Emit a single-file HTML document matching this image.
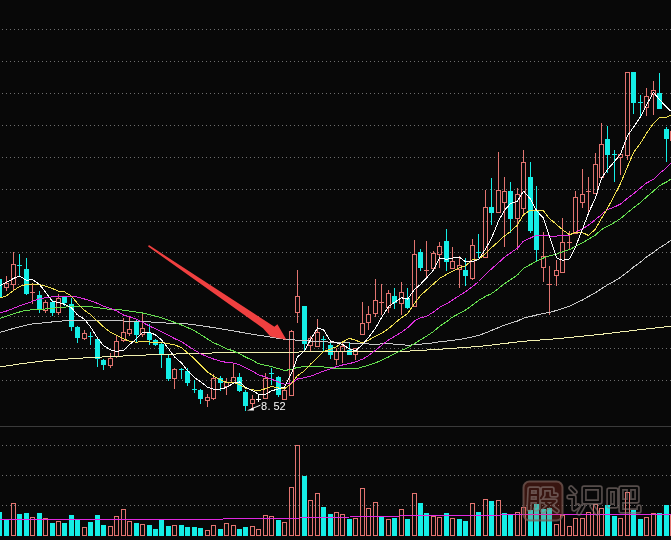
<!DOCTYPE html><html><head><meta charset="utf-8"><style>html,body{margin:0;padding:0;background:#080808;width:671px;height:540px;overflow:hidden}</style></head><body><svg width="671" height="540" viewBox="0 0 671 540" style="display:block"><rect width="671" height="540" fill="#080808"/><defs><pattern id="dot" x="0" y="0" width="4" height="1" patternUnits="userSpaceOnUse"><rect x="2" y="0" width="1" height="1" fill="#6e6e6e"/></pattern></defs><rect x="0" y="29" width="671" height="1" fill="url(#dot)"/><rect x="0" y="61" width="671" height="1" fill="url(#dot)"/><rect x="0" y="93" width="671" height="1" fill="url(#dot)"/><rect x="0" y="125" width="671" height="1" fill="url(#dot)"/><rect x="0" y="157" width="671" height="1" fill="url(#dot)"/><rect x="0" y="189" width="671" height="1" fill="url(#dot)"/><rect x="0" y="221" width="671" height="1" fill="url(#dot)"/><rect x="0" y="252" width="671" height="1" fill="url(#dot)"/><rect x="0" y="284" width="671" height="1" fill="url(#dot)"/><rect x="0" y="316" width="671" height="1" fill="url(#dot)"/><rect x="0" y="348" width="671" height="1" fill="url(#dot)"/><rect x="0" y="380" width="671" height="1" fill="url(#dot)"/><rect x="0" y="445" width="671" height="1" fill="url(#dot)"/><rect x="0" y="475" width="671" height="1" fill="url(#dot)"/><rect x="0" y="505" width="671" height="1" fill="url(#dot)"/><rect x="0" y="426" width="671" height="1" fill="#3a3a3a"/><g shape-rendering="crispEdges"><rect x="-1" y="278" width="1" height="20" fill="#14eee6"/><rect x="-3" y="279" width="5" height="19" fill="#14eee6"/><rect x="4.5" y="283.5" width="4" height="4" fill="none" stroke="#e27470" stroke-width="1"/><rect x="6" y="276" width="1" height="7" fill="#e27470"/><rect x="6" y="288" width="1" height="3" fill="#e27470"/><rect x="11.5" y="264.5" width="4" height="20" fill="none" stroke="#e27470" stroke-width="1"/><rect x="13" y="252" width="1" height="12" fill="#e27470"/><rect x="13" y="285" width="1" height="6" fill="#e27470"/><rect x="19" y="254" width="1" height="22" fill="#14eee6"/><rect x="17" y="265" width="5" height="1" fill="#14eee6"/><rect x="26" y="258" width="1" height="37" fill="#14eee6"/><rect x="24" y="269" width="5" height="25" fill="#14eee6"/><rect x="32" y="283" width="1" height="21" fill="#e27470"/><rect x="30" y="292" width="5" height="1" fill="#e27470"/><rect x="39" y="291" width="1" height="22" fill="#14eee6"/><rect x="37" y="295" width="5" height="14" fill="#14eee6"/><rect x="43.5" y="302.5" width="4" height="8" fill="none" stroke="#e27470" stroke-width="1"/><rect x="45" y="300" width="1" height="2" fill="#e27470"/><rect x="45" y="311" width="1" height="2" fill="#e27470"/><rect x="52" y="300" width="1" height="16" fill="#14eee6"/><rect x="50" y="302" width="5" height="11" fill="#14eee6"/><rect x="56.5" y="298.5" width="4" height="14" fill="none" stroke="#e27470" stroke-width="1"/><rect x="58" y="294" width="1" height="4" fill="#e27470"/><rect x="58" y="313" width="1" height="2" fill="#e27470"/><rect x="64" y="296" width="1" height="10" fill="#14eee6"/><rect x="62" y="297" width="5" height="6" fill="#14eee6"/><rect x="71" y="298" width="1" height="33" fill="#14eee6"/><rect x="69" y="304" width="5" height="23" fill="#14eee6"/><rect x="77" y="326" width="1" height="17" fill="#14eee6"/><rect x="75" y="327" width="5" height="11" fill="#14eee6"/><rect x="82.5" y="333.5" width="4" height="5" fill="none" stroke="#e27470" stroke-width="1"/><rect x="84" y="330" width="1" height="3" fill="#e27470"/><rect x="84" y="339" width="1" height="1" fill="#e27470"/><rect x="90" y="332" width="1" height="13" fill="#14eee6"/><rect x="88" y="336" width="5" height="1" fill="#14eee6"/><rect x="97" y="337" width="1" height="30" fill="#14eee6"/><rect x="95" y="339" width="5" height="20" fill="#14eee6"/><rect x="103" y="359" width="1" height="11" fill="#14eee6"/><rect x="101" y="360" width="5" height="5" fill="#14eee6"/><rect x="108.5" y="358.5" width="4" height="7" fill="none" stroke="#e27470" stroke-width="1"/><rect x="110" y="353" width="1" height="5" fill="#e27470"/><rect x="110" y="366" width="1" height="2" fill="#e27470"/><rect x="114.5" y="341.5" width="4" height="15" fill="none" stroke="#e27470" stroke-width="1"/><rect x="116" y="336" width="1" height="5" fill="#e27470"/><rect x="116" y="357" width="1" height="1" fill="#e27470"/><rect x="121.5" y="332.5" width="4" height="8" fill="none" stroke="#e27470" stroke-width="1"/><rect x="123" y="318" width="1" height="14" fill="#e27470"/><rect x="123" y="341" width="1" height="1" fill="#e27470"/><rect x="127.5" y="329.5" width="4" height="4" fill="none" stroke="#e27470" stroke-width="1"/><rect x="129" y="317" width="1" height="12" fill="#e27470"/><rect x="129" y="334" width="1" height="2" fill="#e27470"/><rect x="136" y="320" width="1" height="23" fill="#14eee6"/><rect x="134" y="322" width="5" height="13" fill="#14eee6"/><rect x="140.5" y="328.5" width="4" height="6" fill="none" stroke="#e27470" stroke-width="1"/><rect x="142" y="314" width="1" height="14" fill="#e27470"/><rect x="142" y="335" width="1" height="2" fill="#e27470"/><rect x="149" y="324" width="1" height="21" fill="#14eee6"/><rect x="147" y="333" width="5" height="7" fill="#14eee6"/><rect x="155" y="339" width="1" height="7" fill="#14eee6"/><rect x="153" y="340" width="5" height="5" fill="#14eee6"/><rect x="161" y="343" width="1" height="25" fill="#14eee6"/><rect x="159" y="344" width="5" height="11" fill="#14eee6"/><rect x="168" y="355" width="1" height="26" fill="#14eee6"/><rect x="166" y="358" width="5" height="21" fill="#14eee6"/><rect x="172.5" y="369.5" width="4" height="9" fill="none" stroke="#e27470" stroke-width="1"/><rect x="174" y="368" width="1" height="1" fill="#e27470"/><rect x="174" y="379" width="1" height="10" fill="#e27470"/><rect x="181" y="368" width="1" height="11" fill="#14eee6"/><rect x="179" y="369" width="5" height="1" fill="#14eee6"/><rect x="187" y="368" width="1" height="18" fill="#14eee6"/><rect x="185" y="371" width="5" height="12" fill="#14eee6"/><rect x="194" y="380" width="1" height="13" fill="#14eee6"/><rect x="192" y="389" width="5" height="1" fill="#14eee6"/><rect x="200" y="389" width="1" height="15" fill="#14eee6"/><rect x="198" y="390" width="5" height="9" fill="#14eee6"/><rect x="205.5" y="397.5" width="4" height="3" fill="none" stroke="#e27470" stroke-width="1"/><rect x="207" y="394" width="1" height="3" fill="#e27470"/><rect x="207" y="401" width="1" height="6" fill="#e27470"/><rect x="211.5" y="378.5" width="4" height="20" fill="none" stroke="#e27470" stroke-width="1"/><rect x="213" y="374" width="1" height="4" fill="#e27470"/><rect x="213" y="399" width="1" height="1" fill="#e27470"/><rect x="220" y="376" width="1" height="15" fill="#14eee6"/><rect x="218" y="378" width="5" height="5" fill="#14eee6"/><rect x="224.5" y="382.5" width="4" height="4" fill="none" stroke="#e27470" stroke-width="1"/><rect x="226" y="378" width="1" height="4" fill="#e27470"/><rect x="226" y="387" width="1" height="8" fill="#e27470"/><rect x="231.5" y="377.5" width="4" height="5" fill="none" stroke="#e27470" stroke-width="1"/><rect x="233" y="364" width="1" height="13" fill="#e27470"/><rect x="233" y="383" width="1" height="1" fill="#e27470"/><rect x="239" y="373" width="1" height="19" fill="#14eee6"/><rect x="237" y="377" width="5" height="14" fill="#14eee6"/><rect x="245" y="390" width="1" height="21" fill="#14eee6"/><rect x="243" y="392" width="5" height="14" fill="#14eee6"/><rect x="250.5" y="399.5" width="4" height="4" fill="none" stroke="#e27470" stroke-width="1"/><rect x="252" y="395" width="1" height="4" fill="#e27470"/><rect x="252" y="404" width="1" height="5" fill="#e27470"/><rect x="258" y="394" width="1" height="8" fill="#ffffff"/><rect x="256" y="399" width="5" height="1" fill="#ffffff"/><rect x="263.5" y="378.5" width="4" height="20" fill="none" stroke="#e27470" stroke-width="1"/><rect x="265" y="373" width="1" height="5" fill="#e27470"/><rect x="271" y="368" width="1" height="17" fill="#14eee6"/><rect x="269" y="373" width="5" height="1" fill="#14eee6"/><rect x="278" y="376" width="1" height="21" fill="#14eee6"/><rect x="276" y="377" width="5" height="18" fill="#14eee6"/><rect x="282.5" y="390.5" width="4" height="9" fill="none" stroke="#e27470" stroke-width="1"/><rect x="284" y="389" width="1" height="1" fill="#e27470"/><rect x="289.5" y="331.5" width="4" height="64" fill="none" stroke="#e27470" stroke-width="1"/><rect x="291" y="330" width="1" height="1" fill="#e27470"/><rect x="295.5" y="296.5" width="4" height="16" fill="none" stroke="#e27470" stroke-width="1"/><rect x="297" y="270" width="1" height="26" fill="#e27470"/><rect x="297" y="313" width="1" height="10" fill="#e27470"/><rect x="304" y="306" width="1" height="45" fill="#14eee6"/><rect x="302" y="306" width="5" height="38" fill="#14eee6"/><rect x="308.5" y="338.5" width="4" height="7" fill="none" stroke="#e27470" stroke-width="1"/><rect x="310" y="336" width="1" height="2" fill="#e27470"/><rect x="310" y="346" width="1" height="6" fill="#e27470"/><rect x="315.5" y="332.5" width="4" height="14" fill="none" stroke="#e27470" stroke-width="1"/><rect x="317" y="319" width="1" height="13" fill="#e27470"/><rect x="323" y="336" width="1" height="16" fill="#14eee6"/><rect x="321" y="339" width="5" height="1" fill="#14eee6"/><rect x="330" y="340" width="1" height="19" fill="#14eee6"/><rect x="328" y="345" width="5" height="10" fill="#14eee6"/><rect x="334.5" y="351.5" width="4" height="8" fill="none" stroke="#e27470" stroke-width="1"/><rect x="336" y="348" width="1" height="3" fill="#e27470"/><rect x="336" y="360" width="1" height="5" fill="#e27470"/><rect x="340.5" y="346.5" width="4" height="5" fill="none" stroke="#e27470" stroke-width="1"/><rect x="342" y="343" width="1" height="3" fill="#e27470"/><rect x="342" y="352" width="1" height="11" fill="#e27470"/><rect x="349" y="342" width="1" height="13" fill="#14eee6"/><rect x="347" y="350" width="5" height="5" fill="#14eee6"/><rect x="353.5" y="348.5" width="4" height="6" fill="none" stroke="#e27470" stroke-width="1"/><rect x="355" y="355" width="1" height="5" fill="#e27470"/><rect x="360.5" y="323.5" width="4" height="11" fill="none" stroke="#e27470" stroke-width="1"/><rect x="362" y="302" width="1" height="21" fill="#e27470"/><rect x="366.5" y="314.5" width="4" height="8" fill="none" stroke="#e27470" stroke-width="1"/><rect x="368" y="306" width="1" height="8" fill="#e27470"/><rect x="368" y="323" width="1" height="7" fill="#e27470"/><rect x="373.5" y="300.5" width="4" height="13" fill="none" stroke="#e27470" stroke-width="1"/><rect x="375" y="279" width="1" height="21" fill="#e27470"/><rect x="375" y="314" width="1" height="3" fill="#e27470"/><rect x="381" y="284" width="1" height="31" fill="#e27470"/><rect x="379" y="302" width="5" height="1" fill="#e27470"/><rect x="386.5" y="293.5" width="4" height="14" fill="none" stroke="#e27470" stroke-width="1"/><rect x="388" y="290" width="1" height="3" fill="#e27470"/><rect x="388" y="308" width="1" height="5" fill="#e27470"/><rect x="394" y="288" width="1" height="21" fill="#14eee6"/><rect x="392" y="296" width="5" height="7" fill="#14eee6"/><rect x="399.5" y="292.5" width="4" height="11" fill="none" stroke="#e27470" stroke-width="1"/><rect x="401" y="282" width="1" height="10" fill="#e27470"/><rect x="401" y="304" width="1" height="11" fill="#e27470"/><rect x="407" y="288" width="1" height="21" fill="#14eee6"/><rect x="405" y="298" width="5" height="10" fill="#14eee6"/><rect x="412.5" y="254.5" width="4" height="52" fill="none" stroke="#e27470" stroke-width="1"/><rect x="414" y="240" width="1" height="14" fill="#e27470"/><rect x="420" y="249" width="1" height="22" fill="#14eee6"/><rect x="418" y="252" width="5" height="16" fill="#14eee6"/><rect x="426" y="241" width="1" height="37" fill="#e27470"/><rect x="424" y="270" width="5" height="1" fill="#e27470"/><rect x="431.5" y="253.5" width="4" height="15" fill="none" stroke="#e27470" stroke-width="1"/><rect x="433" y="251" width="1" height="2" fill="#e27470"/><rect x="437.5" y="246.5" width="4" height="8" fill="none" stroke="#e27470" stroke-width="1"/><rect x="439" y="242" width="1" height="4" fill="#e27470"/><rect x="439" y="255" width="1" height="13" fill="#e27470"/><rect x="446" y="229" width="1" height="42" fill="#14eee6"/><rect x="444" y="241" width="5" height="21" fill="#14eee6"/><rect x="450.5" y="261.5" width="4" height="7" fill="none" stroke="#e27470" stroke-width="1"/><rect x="452" y="247" width="1" height="14" fill="#e27470"/><rect x="457.5" y="265.5" width="4" height="4" fill="none" stroke="#e27470" stroke-width="1"/><rect x="459" y="256" width="1" height="9" fill="#e27470"/><rect x="459" y="270" width="1" height="18" fill="#e27470"/><rect x="465" y="258" width="1" height="28" fill="#14eee6"/><rect x="463" y="270" width="5" height="6" fill="#14eee6"/><rect x="470.5" y="245.5" width="4" height="33" fill="none" stroke="#e27470" stroke-width="1"/><rect x="472" y="239" width="1" height="6" fill="#e27470"/><rect x="472" y="279" width="1" height="1" fill="#e27470"/><rect x="478" y="234" width="1" height="24" fill="#14eee6"/><rect x="476" y="252" width="5" height="1" fill="#14eee6"/><rect x="483.5" y="207.5" width="4" height="50" fill="none" stroke="#e27470" stroke-width="1"/><rect x="485" y="190" width="1" height="17" fill="#e27470"/><rect x="491" y="178" width="1" height="47" fill="#14eee6"/><rect x="489" y="207" width="5" height="6" fill="#14eee6"/><rect x="496.5" y="190.5" width="4" height="22" fill="none" stroke="#e27470" stroke-width="1"/><rect x="498" y="152" width="1" height="38" fill="#e27470"/><rect x="502.5" y="191.5" width="4" height="11" fill="none" stroke="#e27470" stroke-width="1"/><rect x="504" y="177" width="1" height="14" fill="#e27470"/><rect x="504" y="203" width="1" height="44" fill="#e27470"/><rect x="510" y="182" width="1" height="51" fill="#14eee6"/><rect x="508" y="191" width="5" height="28" fill="#14eee6"/><rect x="515.5" y="194.5" width="4" height="24" fill="none" stroke="#e27470" stroke-width="1"/><rect x="517" y="188" width="1" height="6" fill="#e27470"/><rect x="517" y="219" width="1" height="31" fill="#e27470"/><rect x="521.5" y="162.5" width="4" height="46" fill="none" stroke="#e27470" stroke-width="1"/><rect x="523" y="150" width="1" height="12" fill="#e27470"/><rect x="523" y="209" width="1" height="6" fill="#e27470"/><rect x="530" y="162" width="1" height="71" fill="#14eee6"/><rect x="528" y="177" width="5" height="54" fill="#14eee6"/><rect x="536" y="186" width="1" height="75" fill="#14eee6"/><rect x="534" y="210" width="5" height="40" fill="#14eee6"/><rect x="541.5" y="256.5" width="4" height="11" fill="none" stroke="#e27470" stroke-width="1"/><rect x="543" y="232" width="1" height="24" fill="#e27470"/><rect x="543" y="268" width="1" height="14" fill="#e27470"/><rect x="549" y="266" width="1" height="49" fill="#e27470"/><rect x="547" y="284" width="5" height="1" fill="#e27470"/><rect x="554.5" y="270.5" width="4" height="5" fill="none" stroke="#e27470" stroke-width="1"/><rect x="556" y="260" width="1" height="10" fill="#e27470"/><rect x="556" y="276" width="1" height="10" fill="#e27470"/><rect x="560.5" y="242.5" width="4" height="30" fill="none" stroke="#e27470" stroke-width="1"/><rect x="562" y="218" width="1" height="24" fill="#e27470"/><rect x="569" y="231" width="1" height="19" fill="#e27470"/><rect x="567" y="242" width="5" height="1" fill="#e27470"/><rect x="573.5" y="197.5" width="4" height="36" fill="none" stroke="#e27470" stroke-width="1"/><rect x="575" y="191" width="1" height="6" fill="#e27470"/><rect x="580.5" y="194.5" width="4" height="8" fill="none" stroke="#e27470" stroke-width="1"/><rect x="582" y="169" width="1" height="25" fill="#e27470"/><rect x="582" y="203" width="1" height="5" fill="#e27470"/><rect x="588" y="177" width="1" height="35" fill="#e27470"/><rect x="586" y="191" width="5" height="1" fill="#e27470"/><rect x="593.5" y="164.5" width="4" height="29" fill="none" stroke="#e27470" stroke-width="1"/><rect x="595" y="153" width="1" height="11" fill="#e27470"/><rect x="599.5" y="144.5" width="4" height="33" fill="none" stroke="#e27470" stroke-width="1"/><rect x="601" y="123" width="1" height="21" fill="#e27470"/><rect x="607" y="126" width="1" height="47" fill="#14eee6"/><rect x="605" y="139" width="5" height="16" fill="#14eee6"/><rect x="614" y="150" width="1" height="32" fill="#14eee6"/><rect x="612" y="154" width="5" height="1" fill="#14eee6"/><rect x="618.5" y="154.5" width="4" height="3" fill="none" stroke="#e27470" stroke-width="1"/><rect x="620" y="153" width="1" height="1" fill="#e27470"/><rect x="620" y="158" width="1" height="17" fill="#e27470"/><rect x="625.5" y="72.5" width="4" height="83" fill="none" stroke="#e27470" stroke-width="1"/><rect x="627" y="156" width="1" height="4" fill="#e27470"/><rect x="633" y="72" width="1" height="42" fill="#14eee6"/><rect x="631" y="72" width="5" height="31" fill="#14eee6"/><rect x="640" y="95" width="1" height="23" fill="#14eee6"/><rect x="638" y="102" width="5" height="1" fill="#14eee6"/><rect x="644.5" y="96.5" width="4" height="11" fill="none" stroke="#e27470" stroke-width="1"/><rect x="646" y="88" width="1" height="8" fill="#e27470"/><rect x="646" y="108" width="1" height="8" fill="#e27470"/><rect x="651.5" y="90.5" width="4" height="4" fill="none" stroke="#e27470" stroke-width="1"/><rect x="653" y="81" width="1" height="9" fill="#e27470"/><rect x="653" y="95" width="1" height="20" fill="#e27470"/><rect x="659" y="73" width="1" height="36" fill="#14eee6"/><rect x="657" y="93" width="5" height="16" fill="#14eee6"/><rect x="666" y="127" width="1" height="35" fill="#14eee6"/><rect x="664" y="129" width="5" height="10" fill="#14eee6"/><rect x="670.5" y="131.5" width="4" height="9" fill="none" stroke="#e27470" stroke-width="1"/><rect x="672" y="125" width="1" height="6" fill="#e27470"/><rect x="672" y="141" width="1" height="10" fill="#e27470"/></g><g shape-rendering="crispEdges"><rect x="-3" y="512" width="5" height="24" fill="#14eee6"/><rect x="4" y="520" width="5" height="16" fill="#14eee6"/><rect x="11.5" y="503.5" width="4" height="32" fill="none" stroke="#e27470" stroke-width="1"/><rect x="17" y="514" width="5" height="22" fill="#14eee6"/><rect x="24" y="513" width="5" height="23" fill="#14eee6"/><rect x="30.5" y="517.5" width="4" height="18" fill="none" stroke="#e27470" stroke-width="1"/><rect x="37" y="513" width="5" height="23" fill="#14eee6"/><rect x="43.5" y="518.5" width="4" height="17" fill="none" stroke="#e27470" stroke-width="1"/><rect x="50" y="523" width="5" height="13" fill="#14eee6"/><rect x="56.5" y="521.5" width="4" height="14" fill="none" stroke="#e27470" stroke-width="1"/><rect x="62" y="523" width="5" height="13" fill="#14eee6"/><rect x="69" y="515" width="5" height="21" fill="#14eee6"/><rect x="75" y="520" width="5" height="16" fill="#14eee6"/><rect x="82.5" y="527.5" width="4" height="8" fill="none" stroke="#e27470" stroke-width="1"/><rect x="88" y="522" width="5" height="14" fill="#14eee6"/><rect x="95" y="515" width="5" height="21" fill="#14eee6"/><rect x="101" y="525" width="5" height="11" fill="#14eee6"/><rect x="108.5" y="526.5" width="4" height="9" fill="none" stroke="#e27470" stroke-width="1"/><rect x="114.5" y="516.5" width="4" height="19" fill="none" stroke="#e27470" stroke-width="1"/><rect x="121.5" y="509.5" width="4" height="26" fill="none" stroke="#e27470" stroke-width="1"/><rect x="127.5" y="521.5" width="4" height="14" fill="none" stroke="#e27470" stroke-width="1"/><rect x="134" y="523" width="5" height="13" fill="#14eee6"/><rect x="140.5" y="524.5" width="4" height="11" fill="none" stroke="#e27470" stroke-width="1"/><rect x="147" y="525" width="5" height="11" fill="#14eee6"/><rect x="153" y="529" width="5" height="7" fill="#14eee6"/><rect x="159" y="520" width="5" height="16" fill="#14eee6"/><rect x="166" y="526" width="5" height="10" fill="#14eee6"/><rect x="172.5" y="525.5" width="4" height="10" fill="none" stroke="#e27470" stroke-width="1"/><rect x="179" y="525" width="5" height="11" fill="#14eee6"/><rect x="185" y="527" width="5" height="9" fill="#14eee6"/><rect x="192" y="527" width="5" height="9" fill="#14eee6"/><rect x="198" y="528" width="5" height="8" fill="#14eee6"/><rect x="205.5" y="530.5" width="4" height="5" fill="none" stroke="#e27470" stroke-width="1"/><rect x="211.5" y="525.5" width="4" height="10" fill="none" stroke="#e27470" stroke-width="1"/><rect x="218" y="529" width="5" height="7" fill="#14eee6"/><rect x="224.5" y="523.5" width="4" height="12" fill="none" stroke="#e27470" stroke-width="1"/><rect x="231.5" y="525.5" width="4" height="10" fill="none" stroke="#e27470" stroke-width="1"/><rect x="237" y="529" width="5" height="7" fill="#14eee6"/><rect x="243" y="527" width="5" height="9" fill="#14eee6"/><rect x="250.5" y="526.5" width="4" height="9" fill="none" stroke="#e27470" stroke-width="1"/><rect x="256.5" y="529.5" width="4" height="6" fill="none" stroke="#e27470" stroke-width="1"/><rect x="263.5" y="515.5" width="4" height="20" fill="none" stroke="#e27470" stroke-width="1"/><rect x="269.5" y="516.5" width="4" height="19" fill="none" stroke="#e27470" stroke-width="1"/><rect x="276" y="520" width="5" height="16" fill="#14eee6"/><rect x="282.5" y="522.5" width="4" height="13" fill="none" stroke="#e27470" stroke-width="1"/><rect x="289.5" y="487.5" width="4" height="48" fill="none" stroke="#e27470" stroke-width="1"/><rect x="295.5" y="445.5" width="4" height="90" fill="none" stroke="#e27470" stroke-width="1"/><rect x="302" y="476" width="5" height="60" fill="#14eee6"/><rect x="308.5" y="500.5" width="4" height="35" fill="none" stroke="#e27470" stroke-width="1"/><rect x="315.5" y="493.5" width="4" height="42" fill="none" stroke="#e27470" stroke-width="1"/><rect x="321" y="507" width="5" height="29" fill="#14eee6"/><rect x="328" y="514" width="5" height="22" fill="#14eee6"/><rect x="334.5" y="512.5" width="4" height="23" fill="none" stroke="#e27470" stroke-width="1"/><rect x="340.5" y="514.5" width="4" height="21" fill="none" stroke="#e27470" stroke-width="1"/><rect x="347" y="519" width="5" height="17" fill="#14eee6"/><rect x="353.5" y="518.5" width="4" height="17" fill="none" stroke="#e27470" stroke-width="1"/><rect x="360.5" y="488.5" width="4" height="47" fill="none" stroke="#e27470" stroke-width="1"/><rect x="366.5" y="508.5" width="4" height="27" fill="none" stroke="#e27470" stroke-width="1"/><rect x="373.5" y="502.5" width="4" height="33" fill="none" stroke="#e27470" stroke-width="1"/><rect x="379" y="516" width="5" height="20" fill="#14eee6"/><rect x="386.5" y="519.5" width="4" height="16" fill="none" stroke="#e27470" stroke-width="1"/><rect x="392" y="518" width="5" height="18" fill="#14eee6"/><rect x="399.5" y="509.5" width="4" height="26" fill="none" stroke="#e27470" stroke-width="1"/><rect x="405" y="519" width="5" height="17" fill="#14eee6"/><rect x="412.5" y="493.5" width="4" height="42" fill="none" stroke="#e27470" stroke-width="1"/><rect x="418" y="503" width="5" height="33" fill="#14eee6"/><rect x="424" y="513" width="5" height="23" fill="#14eee6"/><rect x="431.5" y="516.5" width="4" height="19" fill="none" stroke="#e27470" stroke-width="1"/><rect x="437.5" y="517.5" width="4" height="18" fill="none" stroke="#e27470" stroke-width="1"/><rect x="444" y="513" width="5" height="23" fill="#14eee6"/><rect x="450.5" y="518.5" width="4" height="17" fill="none" stroke="#e27470" stroke-width="1"/><rect x="457" y="519" width="5" height="17" fill="#14eee6"/><rect x="463" y="521" width="5" height="15" fill="#14eee6"/><rect x="470.5" y="503.5" width="4" height="32" fill="none" stroke="#e27470" stroke-width="1"/><rect x="476" y="512" width="5" height="24" fill="#14eee6"/><rect x="483.5" y="499.5" width="4" height="36" fill="none" stroke="#e27470" stroke-width="1"/><rect x="489" y="501" width="5" height="35" fill="#14eee6"/><rect x="496.5" y="500.5" width="4" height="35" fill="none" stroke="#e27470" stroke-width="1"/><rect x="502" y="513" width="5" height="23" fill="#14eee6"/><rect x="508" y="515" width="5" height="21" fill="#14eee6"/><rect x="515.5" y="512.5" width="4" height="23" fill="none" stroke="#e27470" stroke-width="1"/><rect x="521.5" y="507.5" width="4" height="28" fill="none" stroke="#e27470" stroke-width="1"/><rect x="528" y="510" width="5" height="26" fill="#14eee6"/><rect x="534" y="504" width="5" height="32" fill="#14eee6"/><rect x="541" y="509" width="5" height="27" fill="#14eee6"/><rect x="547" y="508" width="5" height="28" fill="#14eee6"/><rect x="554.5" y="524.5" width="4" height="11" fill="none" stroke="#e27470" stroke-width="1"/><rect x="560.5" y="515.5" width="4" height="20" fill="none" stroke="#e27470" stroke-width="1"/><rect x="567.5" y="526.5" width="4" height="9" fill="none" stroke="#e27470" stroke-width="1"/><rect x="573.5" y="518.5" width="4" height="17" fill="none" stroke="#e27470" stroke-width="1"/><rect x="580.5" y="518.5" width="4" height="17" fill="none" stroke="#e27470" stroke-width="1"/><rect x="586.5" y="512.5" width="4" height="23" fill="none" stroke="#e27470" stroke-width="1"/><rect x="593.5" y="504.5" width="4" height="31" fill="none" stroke="#e27470" stroke-width="1"/><rect x="599.5" y="508.5" width="4" height="27" fill="none" stroke="#e27470" stroke-width="1"/><rect x="605" y="505" width="5" height="31" fill="#14eee6"/><rect x="612" y="516" width="5" height="20" fill="#14eee6"/><rect x="618.5" y="518.5" width="4" height="17" fill="none" stroke="#e27470" stroke-width="1"/><rect x="625.5" y="492.5" width="4" height="43" fill="none" stroke="#e27470" stroke-width="1"/><rect x="631" y="510" width="5" height="26" fill="#14eee6"/><rect x="638" y="519" width="5" height="17" fill="#14eee6"/><rect x="644.5" y="517.5" width="4" height="18" fill="none" stroke="#e27470" stroke-width="1"/><rect x="651.5" y="513.5" width="4" height="22" fill="none" stroke="#e27470" stroke-width="1"/><rect x="657" y="513" width="5" height="23" fill="#14eee6"/><rect x="664" y="505" width="5" height="31" fill="#14eee6"/><rect x="670.5" y="514.5" width="4" height="21" fill="none" stroke="#e27470" stroke-width="1"/></g><polyline points="0,519.8 200,519.3 300,518 400,516 500,515 671,514" fill="none" stroke="#e028e0" stroke-width="1" shape-rendering="crispEdges"/><defs><mask id="gm" maskUnits="userSpaceOnUse" x="500" y="470" width="171" height="70"><path d="M530 489 L529 509 M530 489 H538 V508 L536 509 M530 495 H538 M530 501 H538 M543 489 V495 L541 498 M543 489 H552 V495 H556 M542 501 H555 L543 511 M546 503 L557 511 M571 488 L575 492 M569 497 H574 V509 L578 506 M584 488 H600 V502 H584 Z M583 506 L579 513 M592 506 L597 513 M609 490 H616 V506 H609 Z M621 488 H637 V501 H621 Z M629 488 V501 M621 501 V511 H639 V507" fill="none" stroke="#fff" stroke-width="5.5" stroke-linejoin="round" stroke-linecap="round"/><path d="M530 489 L529 509 M530 489 H538 V508 L536 509 M530 495 H538 M530 501 H538 M543 489 V495 L541 498 M543 489 H552 V495 H556 M542 501 H555 L543 511 M546 503 L557 511 M571 488 L575 492 M569 497 H574 V509 L578 506 M584 488 H600 V502 H584 Z M583 506 L579 513 M592 506 L597 513 M609 490 H616 V506 H609 Z M621 488 H637 V501 H621 Z M629 488 V501 M621 501 V511 H639 V507" fill="none" stroke="#000" stroke-width="2.2" stroke-linejoin="round" stroke-linecap="round"/></mask></defs><rect x="523.5" y="481.5" width="39" height="39" rx="6" fill="#c83c28" fill-opacity="0.25" stroke="#7a6058" stroke-opacity="0.7" stroke-width="2"/><rect x="500" y="470" width="171" height="70" fill="#8a7c78" fill-opacity="0.6" mask="url(#gm)"/><polyline points="0.0,366.9 20.9,363.8 41.7,361.1 62.6,359.4 83.5,358.0 104.3,356.9 125.2,355.9 140.0,355.2 181.7,353.8 223.5,352.7 280.0,352.1 340.0,351.8 400.0,351.6 440.4,349.2 480.8,346.3 521.2,341.5 561.5,338.3 601.9,334.2 642.3,329.4 671.0,326.2" fill="none" stroke="#f2f0b0" stroke-width="1.0" stroke-linejoin="round" shape-rendering="crispEdges"/><polyline points="-0.5,332.4 6.5,330.5 13.5,328.4 19.5,326.8 26.5,325.1 32.5,324.0 39.5,323.3 45.5,322.7 52.5,321.9 58.5,321.2 64.5,320.9 71.5,320.7 77.5,320.5 84.5,320.5 90.5,320.5 97.5,320.5 103.5,320.5 110.5,320.7 116.5,320.9 123.5,321.0 129.5,321.2 136.5,321.3 142.5,321.5 149.5,321.9 155.5,322.3 161.5,322.7 168.5,323.2 174.5,323.6 181.5,323.8 187.5,324.0 194.5,324.8 200.5,325.7 207.5,326.7 213.5,327.6 220.5,328.7 226.5,329.7 233.5,330.9 239.5,332.0 245.5,333.1 252.5,334.3 258.5,335.2 265.5,336.3 271.5,337.3 278.5,338.4 284.5,339.2 291.5,339.7 297.5,340.2 304.5,340.6 310.5,341.1 317.5,341.5 323.5,341.8 330.5,342.1 336.5,342.4 342.5,342.7 349.5,343.0 355.5,343.3 362.5,343.7 368.5,344.0 375.5,344.3 381.5,343.9 388.5,343.8 394.5,344.1 401.5,344.6 407.5,345.3 414.5,344.7 420.5,344.2 426.5,343.6 433.5,342.8 439.5,341.7 446.5,341.1 452.5,340.4 459.5,339.4 465.5,338.3 472.5,336.9 478.5,335.5 485.5,332.9 491.5,330.4 498.5,327.6 504.5,325.1 510.5,323.2 517.5,321.0 523.5,318.1 530.5,316.5 536.5,315.0 543.5,313.5 549.5,312.3 556.5,310.5 562.5,308.4 569.5,306.3 575.5,303.2 582.5,300.0 588.5,296.5 595.5,292.6 601.5,288.7 607.5,284.9 614.5,281.1 620.5,277.4 627.5,272.1 633.5,267.1 640.5,262.1 646.5,257.0 653.5,252.3 659.5,247.8 666.5,243.6 672.5,239.2" fill="none" stroke="#c8c8c8" stroke-width="1.0" stroke-linejoin="round" shape-rendering="crispEdges"/><polyline points="-0.5,318.4 6.5,316.2 13.5,313.8 19.5,312.0 26.5,310.2 32.5,309.9 39.5,309.5 45.5,309.0 52.5,308.3 58.5,307.7 64.5,307.2 71.5,306.5 77.5,306.5 84.5,306.5 90.5,306.6 97.5,307.6 103.5,308.5 110.5,309.4 116.5,309.7 123.5,310.1 129.5,311.1 136.5,312.1 142.5,313.0 149.5,314.7 155.5,316.2 161.5,317.7 168.5,320.1 174.5,322.4 181.5,325.0 187.5,327.6 194.5,330.7 200.5,334.5 207.5,339.0 213.5,342.7 220.5,345.7 226.5,348.7 233.5,351.0 239.5,353.9 245.5,357.0 252.5,360.4 258.5,363.6 265.5,365.4 271.5,366.6 278.5,368.6 284.5,370.4 291.5,369.5 297.5,367.3 304.5,366.7 310.5,366.7 317.5,366.7 323.5,367.0 330.5,367.6 336.5,368.4 342.5,368.7 349.5,369.0 355.5,368.8 362.5,367.0 368.5,365.2 375.5,362.9 381.5,360.2 388.5,357.0 394.5,353.8 401.5,350.3 407.5,347.9 414.5,343.6 420.5,339.8 426.5,336.2 433.5,331.6 439.5,326.3 446.5,321.7 452.5,317.1 459.5,313.4 465.5,310.1 472.5,305.1 478.5,300.5 485.5,296.4 491.5,293.6 498.5,288.5 504.5,283.6 510.5,279.8 517.5,274.9 523.5,268.5 530.5,264.5 536.5,261.3 543.5,258.0 549.5,255.9 556.5,254.1 562.5,251.7 569.5,249.7 575.5,246.2 582.5,242.9 588.5,239.2 595.5,235.0 601.5,229.5 607.5,226.2 614.5,222.5 620.5,218.6 627.5,212.6 633.5,207.8 640.5,202.5 646.5,197.0 653.5,191.1 659.5,185.6 666.5,182.0 672.5,178.0" fill="none" stroke="#66e050" stroke-width="1.0" stroke-linejoin="round" shape-rendering="crispEdges"/><polyline points="-0.5,313.2 6.5,311.0 13.5,308.3 19.5,305.9 26.5,303.6 32.5,301.3 39.5,298.9 45.5,297.6 52.5,296.8 58.5,296.5 64.5,296.4 71.5,296.3 77.5,297.1 84.5,299.0 90.5,300.8 97.5,303.4 103.5,306.4 110.5,308.4 116.5,310.8 123.5,315.0 129.5,316.6 136.5,319.2 142.5,322.4 149.5,326.1 155.5,328.7 161.5,331.7 168.5,335.2 174.5,338.6 181.5,341.5 187.5,345.7 194.5,350.1 200.5,353.7 207.5,356.7 213.5,359.0 220.5,361.2 226.5,362.4 233.5,363.1 239.5,364.7 245.5,367.9 252.5,371.3 258.5,374.8 265.5,376.9 271.5,379.2 278.5,382.0 284.5,384.3 291.5,383.1 297.5,379.0 304.5,377.7 310.5,376.2 317.5,373.6 323.5,371.1 330.5,368.9 336.5,366.6 342.5,365.0 349.5,363.6 355.5,361.9 362.5,359.2 368.5,355.5 375.5,350.2 381.5,345.4 388.5,340.1 394.5,336.3 401.5,332.2 407.5,327.8 414.5,321.0 420.5,317.8 426.5,316.5 433.5,312.0 439.5,307.4 446.5,303.9 452.5,300.0 459.5,295.5 465.5,291.7 472.5,286.7 478.5,281.5 485.5,274.5 491.5,268.9 498.5,262.7 504.5,257.2 510.5,253.0 517.5,248.1 523.5,241.1 530.5,238.0 536.5,235.1 543.5,235.2 549.5,236.1 556.5,236.1 562.5,235.5 569.5,235.3 575.5,232.1 582.5,228.8 588.5,225.1 595.5,219.5 601.5,214.5 607.5,209.6 614.5,206.9 620.5,204.1 627.5,198.2 633.5,193.7 640.5,187.9 646.5,183.0 653.5,179.4 659.5,173.3 666.5,167.8 672.5,161.5" fill="none" stroke="#e030e0" stroke-width="1.0" stroke-linejoin="round" shape-rendering="crispEdges"/><polyline points="-0.5,298.3 6.5,295.8 13.5,290.5 19.5,286.6 26.5,284.4 32.5,284.0 39.5,284.6 45.5,286.1 52.5,288.5 58.5,291.4 64.5,291.9 71.5,296.1 77.5,303.5 84.5,310.3 90.5,314.6 97.5,321.2 103.5,326.8 110.5,332.4 116.5,335.3 123.5,338.7 129.5,341.4 136.5,342.2 142.5,341.3 149.5,341.9 155.5,342.7 161.5,342.3 168.5,343.7 174.5,344.8 181.5,347.7 187.5,352.8 194.5,358.8 200.5,365.1 207.5,372.1 213.5,376.0 220.5,379.8 226.5,382.5 233.5,382.5 239.5,384.5 245.5,388.1 252.5,389.8 258.5,390.8 265.5,388.7 271.5,386.4 278.5,388.0 284.5,388.8 291.5,383.7 297.5,375.6 304.5,370.9 310.5,364.2 317.5,357.5 323.5,351.5 330.5,349.1 336.5,346.8 342.5,342.0 349.5,338.4 355.5,340.2 362.5,342.9 368.5,340.1 375.5,336.3 381.5,333.3 388.5,328.7 394.5,323.5 401.5,317.6 407.5,313.7 414.5,303.6 420.5,295.5 426.5,290.1 433.5,283.9 439.5,278.5 446.5,274.4 452.5,271.2 459.5,267.6 465.5,265.9 472.5,259.7 478.5,259.4 485.5,253.5 491.5,247.7 498.5,241.4 504.5,235.9 510.5,231.6 517.5,224.9 523.5,214.6 530.5,210.1 536.5,210.4 543.5,210.9 549.5,218.6 556.5,224.5 562.5,229.7 569.5,234.7 575.5,232.6 582.5,232.6 588.5,235.5 595.5,229.0 601.5,218.5 607.5,208.3 614.5,195.3 620.5,183.6 627.5,166.7 633.5,152.7 640.5,143.2 646.5,133.3 653.5,123.3 659.5,117.7 666.5,117.1 672.5,114.7" fill="none" stroke="#f0e050" stroke-width="1.0" stroke-linejoin="round" shape-rendering="crispEdges"/><polyline points="-0.5,285.7 6.5,282.4 13.5,278.4 19.5,276.1 26.5,280.3 32.5,279.5 39.5,284.4 45.5,292.1 52.5,301.4 58.5,302.4 64.5,304.3 71.5,307.9 77.5,314.9 84.5,319.2 90.5,326.9 97.5,338.1 103.5,345.7 110.5,349.8 116.5,351.4 123.5,350.4 129.5,344.7 136.5,338.8 142.5,332.8 149.5,332.3 155.5,334.9 161.5,339.9 168.5,348.6 174.5,356.9 181.5,363.0 187.5,370.6 194.5,377.6 200.5,381.7 207.5,387.2 213.5,389.1 220.5,389.0 226.5,387.5 233.5,383.2 239.5,381.9 245.5,387.2 252.5,390.6 258.5,394.1 265.5,394.2 271.5,390.9 278.5,388.8 284.5,387.0 291.5,373.4 297.5,357.0 304.5,350.8 310.5,339.7 317.5,328.0 323.5,329.6 330.5,341.1 336.5,342.8 342.5,344.3 349.5,348.9 355.5,350.8 362.5,344.6 368.5,337.4 375.5,328.2 381.5,317.7 388.5,306.6 394.5,302.3 401.5,297.8 407.5,299.1 414.5,289.6 420.5,284.3 426.5,277.9 433.5,270.1 439.5,257.9 446.5,259.3 452.5,258.1 459.5,257.2 465.5,261.7 472.5,261.4 478.5,259.6 485.5,248.9 491.5,238.2 498.5,221.1 504.5,210.3 510.5,203.6 517.5,201.0 523.5,191.1 530.5,199.1 536.5,210.5 543.5,218.2 549.5,236.3 556.5,257.9 562.5,260.3 569.5,258.9 575.5,247.0 582.5,229.0 588.5,213.2 595.5,197.7 601.5,178.2 607.5,169.6 614.5,161.5 620.5,154.1 627.5,135.7 633.5,127.2 640.5,116.7 646.5,105.1 653.5,92.4 659.5,99.6 666.5,107.0 672.5,112.7" fill="none" stroke="#ffffff" stroke-width="1.0" stroke-linejoin="round" shape-rendering="crispEdges"/><polygon points="148.9,245.1 274.4,326.8 277.4,324.2 286.4,339.8 270.4,336.6 263,328.2 148.1,246.5" fill="#f04040"/><polygon points="247,410.5 253.5,407.5 254,410.5" fill="#ffffff"/><polyline points="251,409 256,407 260.5,405.2" fill="none" stroke="#ffffff" stroke-width="1"/><text x="261" y="410.3" font-family="Liberation Sans, sans-serif" font-size="11" fill="#ffffff" style="opacity:0.98"><tspan x="261">8</tspan><tspan x="267.4">.</tspan><tspan x="273.4">5</tspan><tspan x="279.6">2</tspan></text></svg></body></html>
